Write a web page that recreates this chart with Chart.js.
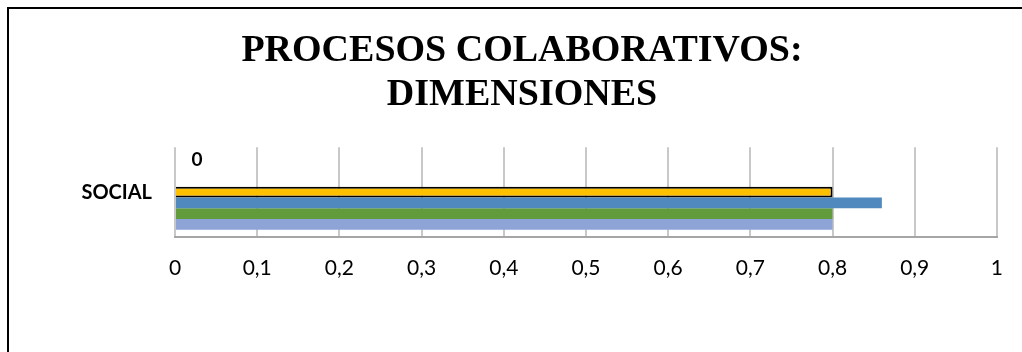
<!DOCTYPE html>
<html>
<head>
<meta charset="utf-8">
<script src="https://cdn.jsdelivr.net/npm/chart.js@4"></script>
<style>
  html, body { margin: 0; padding: 0; background: #fff; overflow: hidden; }
  #frame { position: absolute; left: 7px; top: 7px; width: 2000px; height: 1000px; border: 2px solid #000; }
  #wrap { position: absolute; left: 0; top: 0; width: 1022px; height: 352px; }
</style>
</head>
<body>
<div id="frame"></div>
<div id="wrap"><canvas id="myChart" width="1022" height="352"></canvas></div>
<script>
const titleLines = ['PROCESOS COLABORATIVOS:', 'DIMENSIONES'];
const categories = ['SOCIAL'];
const xTicks = ['0', '0,1', '0,2', '0,3', '0,4', '0,5', '0,6', '0,7', '0,8', '0,9', '1'];
// top to bottom as drawn
const serie7 = [0];
const serie6 = [0];
const serie5 = [0];
const serie4 = [0.8];
const serie3 = [0.86];
const serie2 = [0.8];
const serie1 = [0.8];

// writes the value next to the bar for datasets flagged with showLabel
const barLabels = {
  id: 'barLabels',
  afterDatasetsDraw(chart) {
    const ctx = chart.ctx;
    chart.data.datasets.forEach((ds, i) => {
      if (!ds.showLabel) return;
      chart.getDatasetMeta(i).data.forEach((bar, j) => {
        ctx.save();
        ctx.font = 'bold 19px Lato';
        ctx.fillStyle = '#000';
        ctx.textAlign = 'center';
        ctx.textBaseline = 'middle';
        ctx.fillText(String(ds.data[j]).replace('.', ','), bar.x + 22, bar.y);
        ctx.restore();
      });
    });
  }
};

const myChart = new Chart('myChart', {
  type: 'bar',
  data: {
    labels: categories,
    datasets: [
      { label: 'Serie 7', data: serie7, backgroundColor: '#7f7f7f', showLabel: true },
      { label: 'Serie 6', data: serie6, backgroundColor: '#7f7f7f' },
      { label: 'Serie 5', data: serie5, backgroundColor: '#7f7f7f' },
      { label: 'Serie 4', data: serie4, backgroundColor: '#FFC000', borderColor: '#000', borderWidth: 2 },
      { label: 'Serie 3', data: serie3, backgroundColor: '#4F89BD' },
      { label: 'Serie 2', data: serie2, backgroundColor: '#629B3C' },
      { label: 'Serie 1', data: serie1, backgroundColor: '#8EA3D6' },
    ],
  },
  options: {
    indexAxis: 'y',
    responsive: false,
    animation: false,
    devicePixelRatio: 1,
    categoryPercentage: 0.84,
    barPercentage: 1,
    layout: { padding: { left: 44, right: 22, top: 0, bottom: 0 } },
    plugins: {
      legend: { display: false },
      tooltip: { enabled: false },
      title: {
        display: true,
        text: titleLines,
        color: '#000',
        font: { family: 'Liberation Serif', size: 38, weight: 'bold', lineHeight: 1.16 },
        padding: { top: 29, bottom: 30 },
      },
    },
    scales: {
      x: {
        min: 0,
        max: 1,
        ticks: {
          stepSize: 0.1,
          color: '#000',
          font: { family: 'Lato', size: 21 },
          padding: 19,
          callback: (v, i) => xTicks[i],
        },
        grid: { color: '#c8c8c8', lineWidth: 2, drawTicks: false },
        border: { color: '#a6a6a6', width: 2 },
        afterFit: (s) => { s.height = 115; },
      },
      y: {
        ticks: {
          color: '#000',
          font: { family: 'Lato', size: 20, weight: 'bold' },
          padding: 23,
        },
        grid: { display: false, drawTicks: false },
        border: { display: false },
        afterFit: (s) => { s.width = 131; },
      },
    },
  },
  plugins: [barLabels],
});
</script>
</body>
</html>
